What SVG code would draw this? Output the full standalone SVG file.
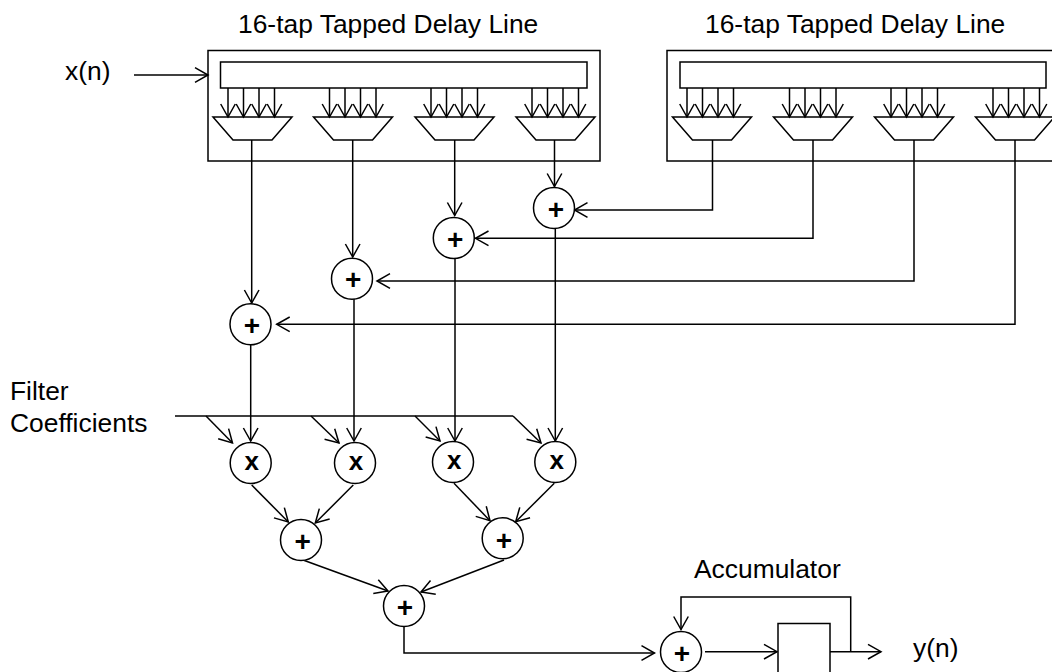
<svg xmlns="http://www.w3.org/2000/svg" width="1052" height="672" viewBox="0 0 1052 672">
<style>
text{font-family:"Liberation Sans",Arial,sans-serif;font-size:26.4px;fill:#000}
.s{fill:none;stroke:#000;stroke-width:1.5}
.b{fill:#fff;stroke:#000;stroke-width:1.5}
.a{fill:none;stroke:#000;stroke-width:1.5;marker-end:url(#o)}
.o{font-weight:bold;font-size:28px;text-anchor:middle}
.m{font-weight:bold;font-size:26px;text-anchor:middle}
</style>
<defs>
<marker id="o" markerUnits="userSpaceOnUse" markerWidth="18" markerHeight="18" refX="14.500" refY="9" orient="auto"><path d="M1.500 1.700 L14.500 9 L1.500 16.300" fill="none" stroke="#000" stroke-width="1.500"/></marker>
<path id="mux" d="M-39.500 0H39.500L19.500 23H-19.500Z" class="b"/>
<g id="taps"><path class="a" d="M-24 0V29"/><path class="a" d="M-8.500 0V29"/><path class="a" d="M7 0V29"/><path class="a" d="M22.500 0V29"/></g>
<circle id="c" r="20.500" class="b"/>
</defs>
<g id="delay-line-1"><rect class="b" x="208" y="50.500" width="392" height="110.500"/><rect class="b" x="220.500" y="62" width="366.500" height="26"/>
<use href="#mux" x="252.500" y="117"/><use href="#mux" x="353" y="117"/><use href="#mux" x="454.500" y="117"/><use href="#mux" x="555.500" y="117"/>
<use href="#taps" x="252" y="88"/><use href="#taps" x="353.500" y="88"/><use href="#taps" x="455" y="88"/><use href="#taps" x="556" y="88"/></g>
<g id="delay-line-2"><rect class="b" x="667" y="50.500" width="395" height="110.500"/><rect class="b" x="680" y="62" width="366" height="26"/>
<use href="#mux" x="712" y="117"/><use href="#mux" x="813" y="117"/><use href="#mux" x="914" y="117"/><use href="#mux" x="1015" y="117"/>
<use href="#taps" x="711" y="88"/><use href="#taps" x="813.500" y="88"/><use href="#taps" x="915" y="88"/><use href="#taps" x="1017" y="88"/></g>
<g id="connectors">
<path class="a" d="M134 75H208"/>
<path class="a" d="M251.700 140V303"/><path class="a" d="M352.700 140V257"/><path class="a" d="M454.700 140V215.500"/><path class="a" d="M554.500 140V186.500"/>
<path class="a" d="M712.500 140V210H574.500"/><path class="a" d="M813 140V238.300H475.500"/><path class="a" d="M914 140V281H377"/><path class="a" d="M1015 140V324.300H276.700"/>
<path class="a" d="M250.700 345V441"/><path class="a" d="M354 299V441"/><path class="a" d="M455 259V441"/><path class="a" d="M555.300 229V441"/>
<path class="s" d="M175 416H513"/>
<path class="a" d="M206 416L232.500 443"/><path class="a" d="M311 416L339 443"/><path class="a" d="M415 416L440 441"/><path class="a" d="M513 416L541 443"/>
<path class="a" d="M251.700 485L288.300 522"/><path class="a" d="M353.300 485L315.300 523"/><path class="a" d="M454 483.300L490 520.700"/><path class="a" d="M554.300 483.300L515.700 521.700"/>
<path class="a" d="M303 560L388 591"/><path class="a" d="M504 560L421 592"/>
<path class="a" d="M404 627V653H654.500"/>
<path class="a" d="M705 651.700H777"/><path class="a" d="M830 651.700H881"/>
<path class="a" d="M850.700 651.700V597H681V629.500"/>
</g>
<g id="add-1"><use href="#c" x="250.500" y="324.300"/><text class="o" x="252" y="335">+</text></g>
<g id="add-2"><use href="#c" x="352" y="278.700"/><text class="o" x="353.300" y="289">+</text></g>
<g id="add-3"><use href="#c" x="453.800" y="238"/><text class="o" x="455.300" y="249">+</text></g>
<g id="add-4"><use href="#c" x="554" y="208"/><text class="o" x="556" y="219">+</text></g>
<g id="mul-1"><use href="#c" x="250.700" y="463"/><text class="m" x="251.700" y="470">x</text></g>
<g id="mul-2"><use href="#c" x="355" y="463"/><text class="m" x="356" y="470">x</text></g>
<g id="mul-3"><use href="#c" x="453" y="462"/><text class="m" x="454.300" y="468.500">x</text></g>
<g id="mul-4"><use href="#c" x="555.300" y="462"/><text class="m" x="556.700" y="468.500">x</text></g>
<g id="add-5"><use href="#c" x="301" y="540"/><text class="o" x="302.700" y="551">+</text></g>
<g id="add-6"><use href="#c" x="502.700" y="538.300"/><text class="o" x="504" y="550">+</text></g>
<g id="add-7"><use href="#c" x="404" y="606"/><text class="o" x="405" y="617">+</text></g>
<g id="add-8"><use href="#c" x="681" y="652"/><text class="o" x="682" y="662.500">+</text></g>
<g id="register"><rect class="b" x="778" y="623.500" width="52" height="60"/></g>
<g id="labels">
<text x="238" y="33">16-tap Tapped Delay Line</text>
<text x="705" y="33">16-tap Tapped Delay Line</text>
<text x="65" y="80">x(n)</text>
<text x="10" y="400">Filter</text>
<text x="10" y="432">Coefficients</text>
<text x="694" y="578">Accumulator</text>
<text x="913" y="657">y(n)</text>
</g>
</svg>
